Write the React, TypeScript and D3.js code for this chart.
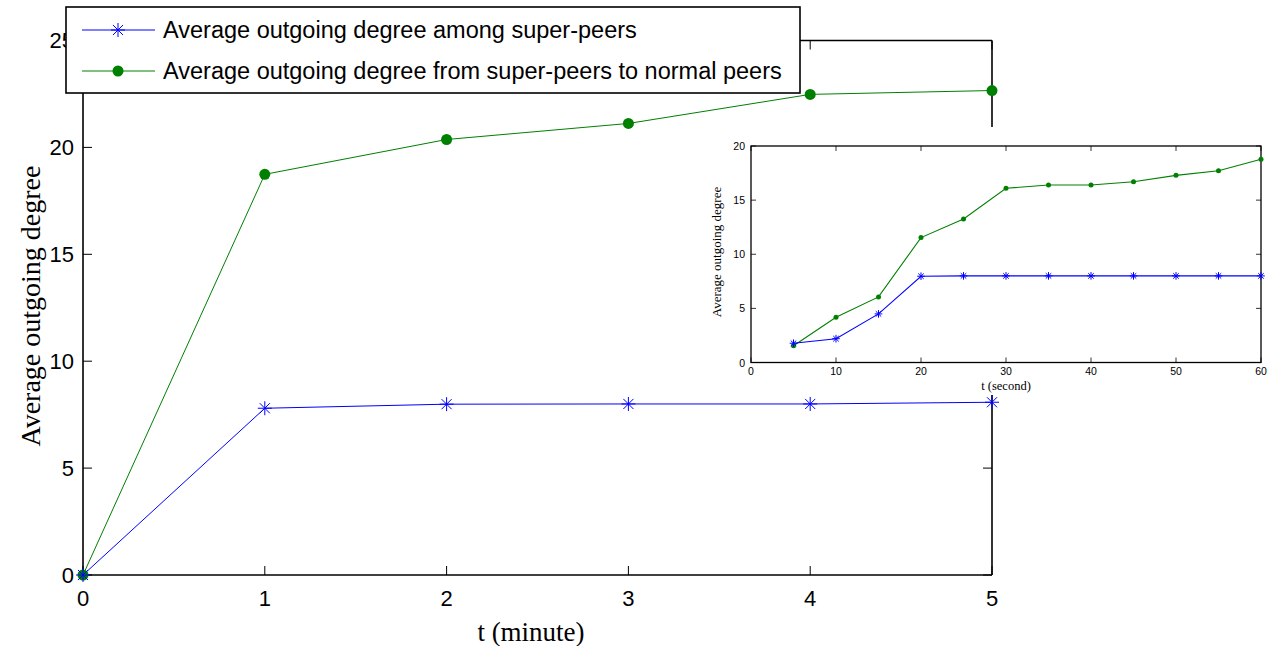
import React from "react";
import * as d3 from "d3";

const mainX = [0, 1, 2, 3, 4, 5];
const mainSuper = [0, 7.8, 7.99, 8.0, 8.0, 8.08];
const mainNormal = [0, 18.74, 20.37, 21.12, 22.48, 22.66];
const mainXTicks = [0, 1, 2, 3, 4, 5];
const mainYTicks = [0, 5, 10, 15, 20, 25];

const insetX = [5, 10, 15, 20, 25, 30, 35, 40, 45, 50, 55, 60];
const insetSuper = [1.78, 2.2, 4.49, 7.97, 8, 8, 8, 8, 8, 8, 8, 8];
const insetNormal = [1.54, 4.18, 6.06, 11.54, 13.26, 16.09, 16.4, 16.4, 16.7, 17.29, 17.72, 18.77];
const insetXTicks = [0, 10, 20, 30, 40, 50, 60];
const insetYTicks = [0, 5, 10, 15, 20];

const legendLabels = [
  "Average outgoing degree among super-peers",
  "Average outgoing degree from super-peers to normal peers",
];

const BLUE = "#0000ff";
const GREEN = "#008000";
const SANS = "'Liberation Sans', Arial, Helvetica, sans-serif";
const SERIF = "'Liberation Serif', 'Times New Roman', serif";

function starPath(cx: number, cy: number, r: number) {
  const d = r * 0.72;
  return `M${cx},${cy - r}L${cx},${cy + r}M${cx - r},${cy}L${cx + r},${cy}M${cx - d},${cy - d}L${cx + d},${cy + d}M${cx - d},${cy + d}L${cx + d},${cy - d}`;
}

export default function App() {
  // main axes
  const x = d3.scaleLinear().domain([0, 5]).range([83, 992]);
  const y = d3.scaleLinear().domain([0, 25]).range([575, 40.5]);
  const line = d3
    .line<[number, number]>()
    .x((d) => x(d[0]))
    .y((d) => y(d[1]));
  const superPts: [number, number][] = mainX.map((v, i) => [v, mainSuper[i]]);
  const normalPts: [number, number][] = mainX.map((v, i) => [v, mainNormal[i]]);

  // inset axes
  const ix = d3.scaleLinear().domain([0, 60]).range([751, 1261]);
  const iy = d3.scaleLinear().domain([0, 20]).range([362.5, 146]);
  const iline = d3
    .line<[number, number]>()
    .x((d) => ix(d[0]))
    .y((d) => iy(d[1]));
  const iSuperPts: [number, number][] = insetX.map((v, i) => [v, insetSuper[i]]);
  const iNormalPts: [number, number][] = insetX.map((v, i) => [v, insetNormal[i]]);

  const [x0, x1] = x.range();
  const [y0, y1] = y.range();
  const [ix0, ix1] = ix.range();
  const [iy0, iy1] = iy.range();

  return (
    <svg width={1282} height={646} style={{ position: "absolute", left: 0, top: 0, background: "#fff" }}>
      <rect x={0} y={0} width={1282} height={646} fill="#fff" />
      {/* main frame */}
      <g stroke="#000" strokeWidth={1.6} fill="none">
        <line x1={x0} y1={y0} x2={x1} y2={y0} />
        <line x1={x0} y1={y0} x2={x0} y2={y1} />
        <line x1={x0} y1={y1} x2={x1} y2={y1} />
        <line x1={x1} y1={y0} x2={x1} y2={y1} />
      </g>
      <g stroke="#000" strokeWidth={1}>
        {mainXTicks.map((t) => (
          <g key={"xt" + t}>
            <line x1={x(t)} y1={y0} x2={x(t)} y2={y0 - 9} />
            <line x1={x(t)} y1={y1} x2={x(t)} y2={y1 + 9} />
          </g>
        ))}
        {mainYTicks.map((t) => (
          <g key={"yt" + t}>
            <line x1={x0} y1={y(t)} x2={x0 + 9} y2={y(t)} />
            <line x1={x1} y1={y(t)} x2={x1 - 9} y2={y(t)} />
          </g>
        ))}
      </g>
      <g fontFamily={SANS} fontSize={22} fill="#000">
        {mainXTicks.map((t) => (
          <text key={"xl" + t} x={x(t)} y={598} textAnchor="middle" dominantBaseline="central">
            {t}
          </text>
        ))}
        {mainYTicks.map((t) => (
          <text key={"yl" + t} x={74} y={y(t)} textAnchor="end" dominantBaseline="central">
            {t}
          </text>
        ))}
      </g>
      <text x={531} y={632} fontFamily={SERIF} fontSize={27} textAnchor="middle" dominantBaseline="central">
        t (minute)
      </text>
      <text
        transform={`translate(30,306) rotate(-90)`}
        fontFamily={SERIF}
        fontSize={28}
        textAnchor="middle"
        dominantBaseline="central"
      >
        Average outgoing degree
      </text>

      {/* main data */}
      <path d={line(normalPts) || ""} fill="none" stroke={GREEN} strokeWidth={1} />
      <path d={line(superPts) || ""} fill="none" stroke={BLUE} strokeWidth={1} />
      {normalPts.map((p, i) => (
        <circle key={"gc" + i} cx={x(p[0])} cy={y(p[1])} r={5.5} fill={GREEN} />
      ))}
      {superPts.map((p, i) => (
        <path key={"bs" + i} d={starPath(x(p[0]), y(p[1]), 7)} stroke={BLUE} strokeWidth={1} fill="none" />
      ))}

      {/* inset */}
      <rect x={698} y={127} width={584} height={268} fill="#fff" />
      <g stroke="#000" strokeWidth={1.3} fill="none">
        <rect x={ix0} y={iy1} width={ix1 - ix0} height={iy0 - iy1} />
      </g>
      <g stroke="#000" strokeWidth={0.8}>
        {insetXTicks.map((t) => (
          <g key={"ixt" + t}>
            <line x1={ix(t)} y1={iy0} x2={ix(t)} y2={iy0 - 5} />
            <line x1={ix(t)} y1={iy1} x2={ix(t)} y2={iy1 + 5} />
          </g>
        ))}
        {insetYTicks.map((t) => (
          <g key={"iyt" + t}>
            <line x1={ix0} y1={iy(t)} x2={ix0 + 5} y2={iy(t)} />
            <line x1={ix1} y1={iy(t)} x2={ix1 - 5} y2={iy(t)} />
          </g>
        ))}
      </g>
      <g fontFamily={SANS} fontSize={10.5} fill="#000">
        {insetXTicks.map((t) => (
          <text key={"ixl" + t} x={ix(t)} y={371} textAnchor="middle" dominantBaseline="central">
            {t}
          </text>
        ))}
        {insetYTicks.map((t) => (
          <text key={"iyl" + t} x={745} y={iy(t)} textAnchor="end" dominantBaseline="central">
            {t}
          </text>
        ))}
      </g>
      <text x={1006} y={386} fontFamily={SERIF} fontSize={12.5} textAnchor="middle" dominantBaseline="central">
        t (second)
      </text>
      <text
        transform={`translate(716,252) rotate(-90)`}
        fontFamily={SERIF}
        fontSize={13}
        textAnchor="middle"
        dominantBaseline="central"
      >
        Average outgoing degree
      </text>
      <path d={iline(iNormalPts) || ""} fill="none" stroke={GREEN} strokeWidth={1.1} />
      <path d={iline(iSuperPts) || ""} fill="none" stroke={BLUE} strokeWidth={1.1} />
      {iNormalPts.map((p, i) => (
        <circle key={"igc" + i} cx={ix(p[0])} cy={iy(p[1])} r={2.5} fill={GREEN} />
      ))}
      {iSuperPts.map((p, i) => (
        <path key={"ibs" + i} d={starPath(ix(p[0]), iy(p[1]), 3.8)} stroke={BLUE} strokeWidth={1} fill="none" />
      ))}

      {/* legend */}
      <rect x={66} y={7} width={734} height={86} fill="#fff" stroke="#000" strokeWidth={1.6} />
      <line x1={82} y1={30} x2={155} y2={30} stroke={BLUE} strokeWidth={1} />
      <path d={starPath(118, 30, 7)} stroke={BLUE} strokeWidth={1} fill="none" />
      <line x1={82} y1={71} x2={155} y2={71} stroke={GREEN} strokeWidth={1} />
      <circle cx={118} cy={71} r={5.5} fill={GREEN} />
      <g fontFamily={SANS} fontSize={23.5} fill="#000">
        <text x={163} y={30} dominantBaseline="central">
          {legendLabels[0]}
        </text>
        <text x={163} y={71} dominantBaseline="central">
          {legendLabels[1]}
        </text>
      </g>
    </svg>
  );
}
